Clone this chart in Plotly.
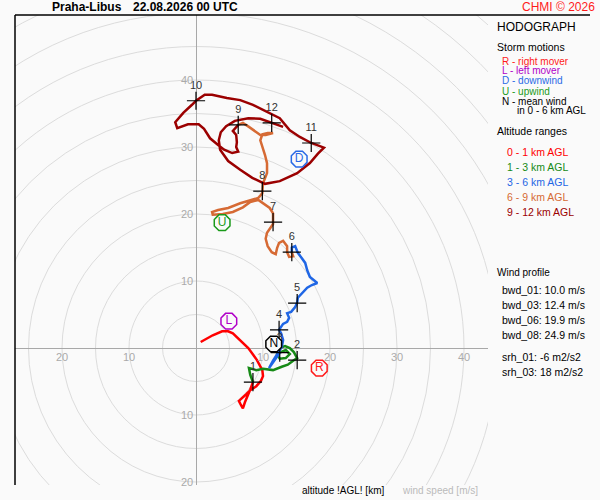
import plotly.graph_objects as go

# hodograph segments (u, v in m/s)
seg01_u = [0.7, 2.5, 3.9, 4.8, 5.5, 6.6, 7.8, 9.1, 9.9, 10.0, 9.7, 9.0, 8.1, 7.5, 6.9, 6.4, 6.7, 7.0, 7.3, 7.7, 8.1, 8.5]
seg01_v = [0.9, 1.9, 2.5, 2.5, 2.2, 1.2, 0.0, -1.8, -3.3, -4.2, -4.9, -5.7, -6.3, -6.9, -7.5, -7.9, -8.5, -9.0, -8.1, -7.2, -6.2, -5.1]

seg13_u = [8.5, 8.1, 7.9, 9.0, 10.0, 11.5, 12.8, 13.7, 14.5, 15.1, 14.6, 14.0, 13.3, 12.4, 12.1, 12.5, 13.4, 14.0, 13.4, 12.5]
seg13_v = [-5.1, -4.0, -3.0, -3.3, -3.1, -3.3, -2.8, -2.5, -1.9, -1.5, -0.6, 0.0, 0.3, 0.0, -0.9, -1.6, -1.5, -0.9, -0.3, -0.7]

seg36_u = [12.5, 11.6, 10.9, 11.5, 12.2, 12.8, 13.0, 12.7, 12.4, 13.0, 13.6, 13.9, 13.6, 14.2, 14.8, 15.1,
           15.2, 15.8, 16.6, 17.3, 18.1, 17.6, 17.0, 16.6, 16.3, 15.8, 15.2, 14.8, 14.3, 14.3]
seg36_v = [-0.7, -2.1, -3.0, -1.9, -0.9, 0.15, 1.2, 2.2, 2.7, 3.6, 3.9, 4.5, 5.2, 5.4, 6.1, 6.8,
           7.5, 8.2, 9.0, 9.4, 9.7, 10.1, 10.6, 11.6, 12.7, 13.4, 14.2, 15.2, 15.0, 14.3]

seg69_u = [14.3, 14.5, 13.9, 13.6, 13.6, 13.0, 12.4, 12.1, 11.9, 11.3, 10.7, 10.4, 10.6, 11.0, 11.5, 11.5,
           11.5, 11.0, 10.1, 9.3, 8.1, 7.0, 5.5, 4.0, 2.5, 2.4, 3.3, 4.8, 6.6, 8.1, 9.3, 9.9, 9.9,
           10.0, 10.6, 10.6, 10.3, 9.9, 9.6, 9.9, 10.7, 11.5, 10.4, 9.6, 8.8, 7.9, 7.0, 6.3]
seg69_v = [14.3, 13.7, 13.6, 14.3, 15.2, 16.0, 15.7, 14.9, 14.0, 14.3, 15.2, 16.3, 17.2, 17.8, 18.5, 18.8,
           20.1, 20.9, 21.6, 22.1, 21.8, 21.0, 20.3, 20.0, 19.9, 20.3, 20.6, 20.9, 21.6, 22.1, 22.4, 23.1, 23.4,
           24.6, 26.1, 27.6, 28.8, 29.9, 31.0, 31.9, 32.1, 32.1, 31.8, 31.8, 32.4, 33.0, 33.6, 33.3]

seg912_u = [6.3, 5.8, 5.5, 6.0, 6.1, 6.0, 6.3, 5.4, 4.2, 3.3, 2.1, 1.2, 0.4, -1.2, -2.8, -3.1, -1.9, -0.6, 0.0,
            1.3, 2.4, 4.6, 6.6, 8.5, 10.6, 12.5, 14.0, 15.5, 17.2, 19.1, 18.2, 17.0, 15.1, 12.5, 10.3, 8.4,
            6.6, 4.8, 3.6, 3.4, 3.7, 4.5, 5.8, 7.8, 9.6, 11.3, 13.0]
seg912_v = [33.3, 32.8, 32.4, 31.8, 30.7, 30.0, 29.3, 29.1, 29.6, 30.3, 31.3, 32.7, 33.4, 33.4, 32.8, 33.7, 35.1, 36.3, 36.9,
            37.8, 37.8, 37.3, 37.0, 36.3, 35.2, 34.3, 32.5, 31.5, 30.6, 29.9, 29.0, 27.6, 26.1, 24.9, 24.5, 25.4,
            26.6, 27.9, 29.6, 31.0, 32.2, 33.1, 33.9, 34.3, 34.2, 33.6, 33.0]

# height marks every km
lvl_txt = ["1", "2", "3", "4", "5", "6", "7", "8", "9", "10", "11", "12"]
lvl_u = [8.5, 15.1, 12.5, 12.4, 15.1, 14.3, 11.5, 9.9, 6.3, 0.0, 17.2, 11.3]
lvl_v = [-5.1, -1.8, -0.7, 2.7, 6.7, 14.3, 18.8, 23.4, 33.3, 36.9, 30.6, 33.6]

# storm motions
storm_txt = ["R", "L", "D", "U", "N"]
storm_u = [18.4, 4.9, 15.4, 3.9, 11.6]
storm_v = [-3.0, 4.0, 28.2, 18.7, 0.6]
storm_col = ["#ff1a1a", "#b000c8", "#2a6ae6", "#1a9a1a", "#000000"]

rings = list(range(5, 75, 5))
xtick_vals = [-20, -10, 10, 20, 30, 40]
ytick_vals = [40, 30, 20, 10, -10, -20]

seg_colors = ["#ff0000", "#168a16", "#1f66e5", "#d66a34", "#9b0000"]
segments = [(seg01_u, seg01_v), (seg13_u, seg13_v), (seg36_u, seg36_v), (seg69_u, seg69_v), (seg912_u, seg912_v)]

FONT = "Liberation Sans, Arial, sans-serif"

fig = go.Figure()

for (u, v), c in zip(segments, seg_colors):
    fig.add_trace(go.Scatter(x=u, y=v, mode="lines", line=dict(color=c, width=2.5), hoverinfo="skip"))

fig.add_trace(go.Scatter(
    x=lvl_u, y=lvl_v, mode="markers+text", text=lvl_txt, textposition="top center",
    marker=dict(symbol="cross-thin", size=13, line=dict(color="black", width=1.2)),
    textfont=dict(family=FONT, size=11, color="#333333"), hoverinfo="skip"))

fig.add_trace(go.Scatter(
    x=storm_u, y=storm_v, mode="markers+text", text=storm_txt, textposition="middle center",
    marker=dict(symbol="octagon", size=17, color="#fafafa", line=dict(color=storm_col, width=1.5)),
    textfont=dict(family=FONT, size=12, color=storm_col), hoverinfo="skip"))

# speed rings
for r in rings:
    fig.add_shape(type="circle", xref="x", yref="y", x0=-r, y0=-r, x1=r, y1=r,
                  line=dict(color="#dcdcdc", width=1), layer="below")

anns = []
for t in xtick_vals:
    anns.append(dict(x=t, y=0, xref="x", yref="y", text=str(abs(t)), showarrow=False,
                     xanchor="center", yanchor="top", yshift=-1,
                     font=dict(family=FONT, size=11, color="#aaaaaa")))
for t in ytick_vals:
    anns.append(dict(x=0, y=t, xref="x", yref="y", text=str(abs(t)), showarrow=False,
                     xanchor="right", yanchor="middle", xshift=-1,
                     font=dict(family=FONT, size=11, color="#aaaaaa")))


def P(px, py):
    # pixel -> paper position
    return (px - 15) / 473.0, (485 - py) / 470.0


def txt(px, py, s, color="black", size=10, anchor="left", bold=False):
    x, y = P(px, py)
    if bold:
        s = "<b>" + s + "</b>"
    anns.append(dict(x=x, y=y, xref="paper", yref="paper", text=s, showarrow=False,
                     xanchor=anchor, yanchor="middle",
                     font=dict(family=FONT, size=size, color=color)))


txt(50, 7, "Praha-Libus", size=12, bold=True)
txt(131, 7, "22.08.2026 00 UTC", size=12, bold=True)
txt(597, 7, "CHMI © 2026", color="#ff1a1a", size=12, anchor="right")

txt(495, 27, "HODOGRAPH", size=12)
txt(495, 47, "Storm motions", size=10.5)
txt(500, 61, "R - right mover", color="#ff1a1a", size=10)
txt(500, 71, "L - left mover", color="#b000c8", size=10)
txt(500, 81, "D - downwind", color="#2a6ae6", size=10)
txt(500, 91, "U - upwind", color="#1a9a1a", size=10)
txt(500, 101, "N - mean wind", size=10)
txt(515, 111, "in 0 - 6 km AGL", size=10)
txt(495, 131, "Altitude ranges", size=10.5)
txt(505, 152, "0 - 1 km AGL", color="#ff0000", size=10.5)
txt(505, 167, "1 - 3 km AGL", color="#168a16", size=10.5)
txt(505, 182, "3 - 6 km AGL", color="#1f66e5", size=10.5)
txt(505, 197, "6 - 9 km AGL", color="#d66a34", size=10.5)
txt(505, 212, "9 - 12 km AGL", color="#9b0000", size=10.5)

txt(495, 272, "Wind profile", size=10)
txt(500, 290, "bwd_01: 10.0 m/s", size=10.5)
txt(500, 305, "bwd_03: 12.4 m/s", size=10.5)
txt(500, 320, "bwd_06: 19.9 m/s", size=10.5)
txt(500, 335, "bwd_08: 24.9 m/s", size=10.5)
txt(500, 357, "srh_01: -6 m2/s2", size=10.5)
txt(500, 372, "srh_03: 18 m2/s2", size=10.5)

txt(300, 491, "altitude !AGL! [km]", size=10)
txt(400, 491, "wind speed [m/s]", color="#bbbbbb", size=10)

# frame: left edge and top edge
fig.add_shape(type="line", xref="paper", yref="paper", x0=0, x1=0, y0=0, y1=1,
              line=dict(color="black", width=1.5))
fig.add_shape(type="line", xref="paper", yref="paper", x0=0, x1=(590 - 15) / 473.0, y0=1, y1=1,
              line=dict(color="black", width=1.5))

fig.update_layout(
    width=600, height=500,
    margin=dict(l=15, r=112, t=15, b=15),
    paper_bgcolor="#fafafa", plot_bgcolor="#fafafa",
    showlegend=False,
    annotations=anns,
    xaxis=dict(range=[-181 / 6.7, 292 / 6.7], showgrid=False, showticklabels=False, ticks="",
               zeroline=True, zerolinecolor="#a8a8a8", zerolinewidth=1, fixedrange=True),
    yaxis=dict(range=[-137 / 6.7, 333 / 6.7], showgrid=False, showticklabels=False, ticks="",
               zeroline=True, zerolinecolor="#a8a8a8", zerolinewidth=1, fixedrange=True),
)

# drop the default 8px body margin so the figure sits at the page corner
fig.write_html("out.html", config={"displayModeBar": False},
               post_script="document.body.style.margin='0';document.body.style.background='#fafafa';")
